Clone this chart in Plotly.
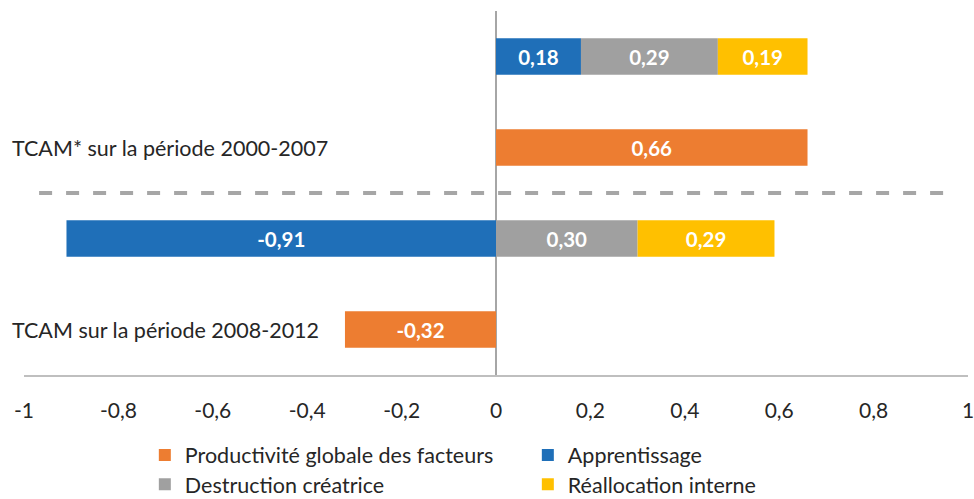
import plotly.graph_objects as go

# Rows from bottom (0) to top (3)
rows = [0, 1, 2, 3]
row_labels = {2: "TCAM* sur la période 2000-2007", 0: "TCAM sur la période 2008-2012"}

pgf = [-0.32, None, 0.66, None]
apprentissage = [None, -0.91, None, 0.18]
destruction = [None, 0.30, None, 0.29]
reallocation = [None, 0.29, None, 0.19]

series = [
    ("Productivité globale des facteurs", pgf, "#ED7D31", "legend"),
    ("Apprentissage", apprentissage, "#1F6FB8", "legend"),
    ("Destruction créatrice", destruction, "#A0A0A0", "legend2"),
    ("Réallocation interne", reallocation, "#FFC000", "legend2"),
]

x_ticks = [-1, -0.8, -0.6, -0.4, -0.2, 0, 0.2, 0.4, 0.6, 0.8, 1]
x_tick_text = ["-1", "-0,8", "-0,6", "-0,4", "-0,2", "0", "0,2", "0,4", "0,6", "0,8", "1"]


def fmt(v):
    return "" if v is None else f"{v:.2f}".replace(".", ",")


FONT = "Lato, 'Open Sans', sans-serif"

fig = go.Figure()
for name, vals, color, leg in series:
    fig.add_trace(go.Bar(
        name=name, y=rows, x=vals, orientation="h", width=0.4,
        marker=dict(color=color, line=dict(width=0)),
        text=[fmt(v) for v in vals], textposition="inside",
        insidetextanchor="middle",
        textfont=dict(family=FONT, size=20.5, color="white", weight="bold"),
        hoverinfo="skip", legend=leg,
    ))

# Dashed separator between the two periods
fig.add_shape(type="line", xref="x", yref="y", x0=-0.968, x1=0.963, y0=1.5, y1=1.5,
              line=dict(color="#A6A6A6", width=4, dash="13px,14px"))

for r, label in row_labels.items():
    fig.add_annotation(x=-0.0148, y=r, xref="paper", yref="y", text=label, showarrow=False,
                       xanchor="left", yanchor="middle",
                       font=dict(family=FONT, size=21.5, color="#262626"))

legend_common = dict(orientation="h", xanchor="left", yanchor="middle",
                     entrywidth=338, entrywidthmode="pixels", traceorder="normal",
                     bgcolor="rgba(0,0,0,0)",
                     font=dict(family=FONT, size=21.5, color="#262626"),
                     itemclick=False, itemdoubleclick=False)

fig.update_layout(
    width=974, height=499,
    margin=dict(l=24, r=6, t=11, b=124, autoexpand=False),
    paper_bgcolor="white", plot_bgcolor="white",
    barmode="relative", bargap=0.6,
    showlegend=True,
    legend=dict(x=0.128, y=-0.22, **legend_common),
    legend2=dict(x=0.128, y=-0.30, **legend_common),
    xaxis=dict(range=[-1, 1], tickvals=x_ticks, ticktext=x_tick_text,
               showgrid=False, zeroline=True, zerolinecolor="#A6A6A6", zerolinewidth=2,
               showline=True, linecolor="#BFBFBF", linewidth=2,
               ticks="outside", ticklen=16, tickcolor="rgba(0,0,0,0)",
               ticklabeloverflow="allow",
               tickfont=dict(family=FONT, size=21, color="#262626"), fixedrange=True),
    yaxis=dict(range=[-0.5, 3.5], showticklabels=False, showgrid=False,
               zeroline=False, showline=False, fixedrange=True),
)

# Remove the default page margin so the figure fills the window exactly.
fig.write_html("out.html", config={"displayModeBar": False},
               post_script="document.body.style.margin='0';document.body.style.overflow='hidden';")
